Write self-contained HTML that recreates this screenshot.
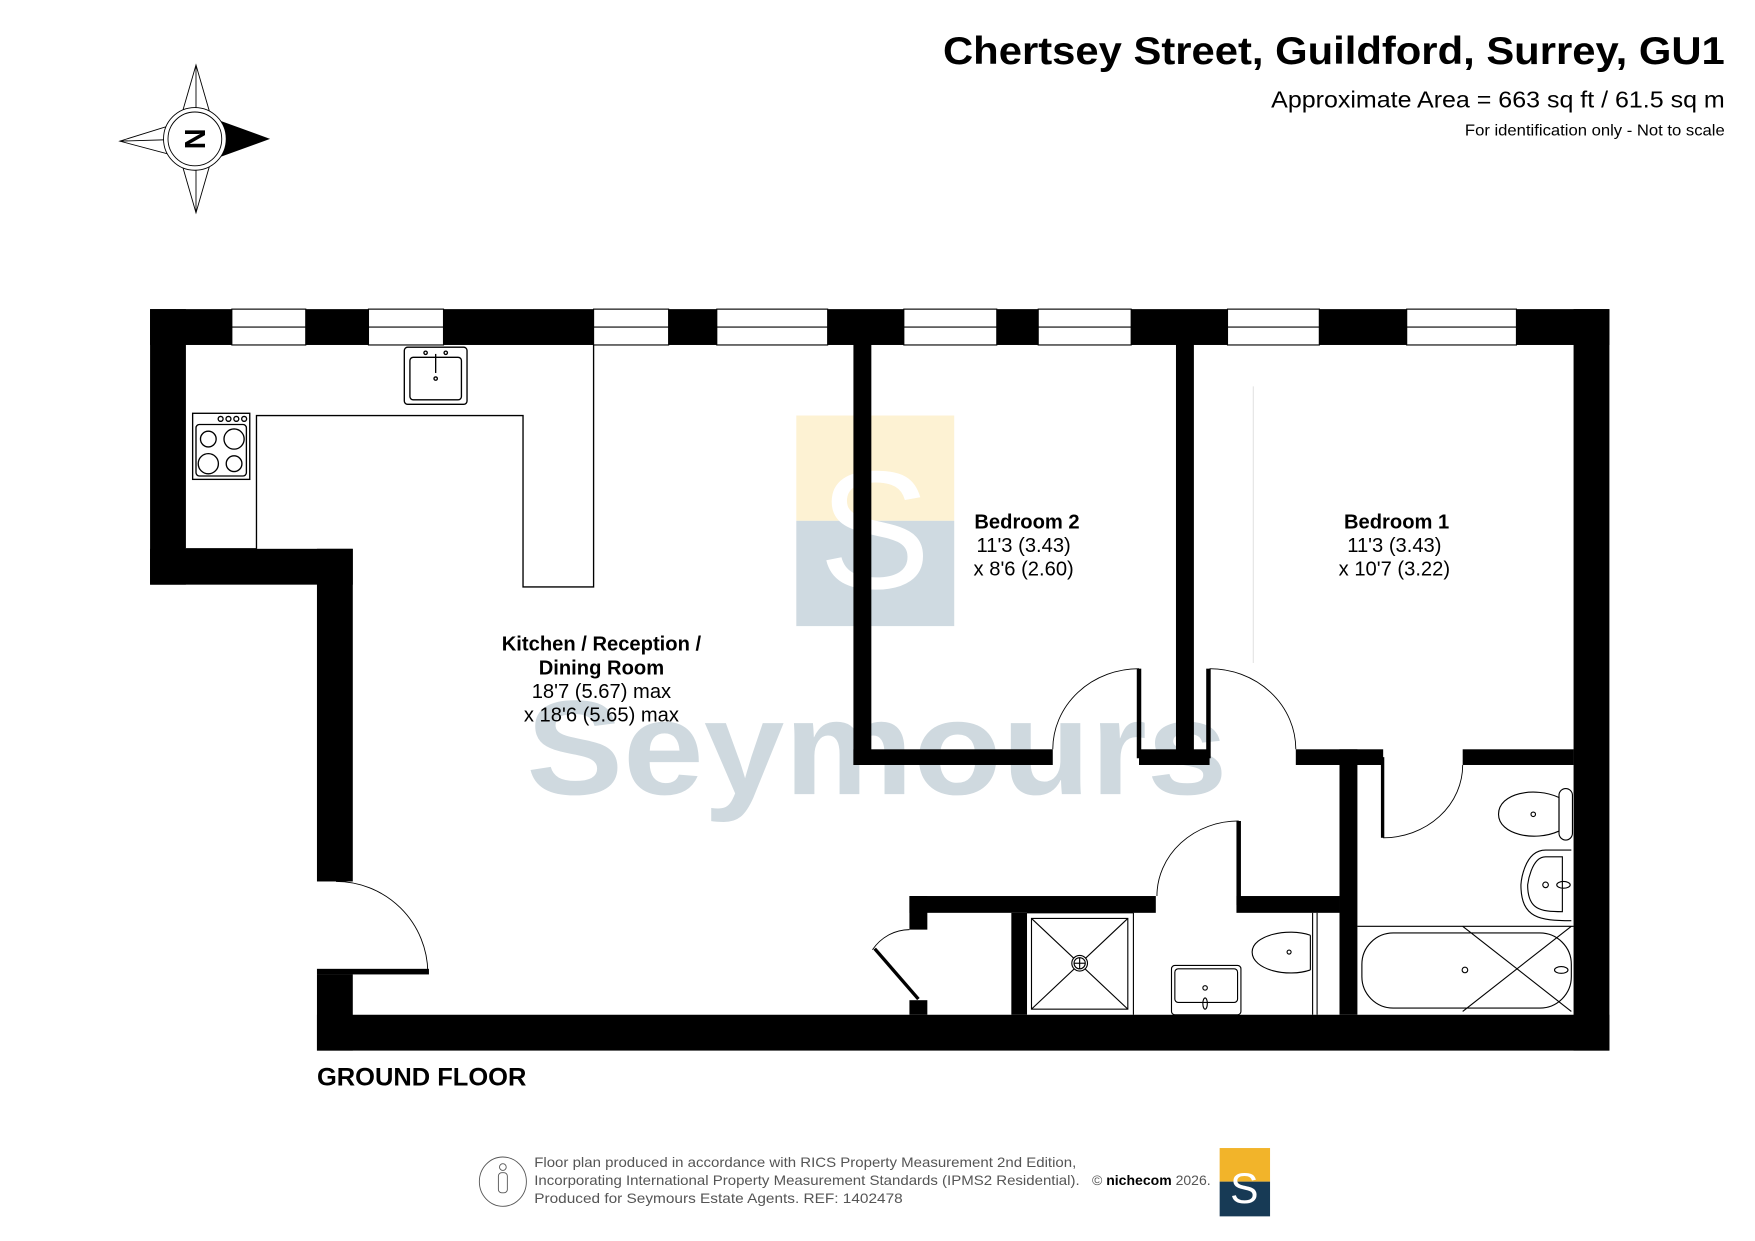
<!DOCTYPE html>
<html><head><meta charset="utf-8"><style>
html,body{margin:0;padding:0;background:#fff;width:1755px;height:1241px;overflow:hidden}
svg{display:block}
text{font-family:"Liberation Sans",Arial,sans-serif}
</style></head><body>
<svg width="1755" height="1241" viewBox="0 0 1567 1108" preserveAspectRatio="none" xmlns="http://www.w3.org/2000/svg">
<rect width="1567" height="1108" fill="#fff"/>
<!-- header -->
<text x="1540" y="57" font-size="35" font-weight="bold" text-anchor="end" textLength="698" lengthAdjust="spacingAndGlyphs">Chertsey Street, Guildford, Surrey, GU1</text>
<text x="1540" y="96" font-size="21" text-anchor="end" textLength="405" lengthAdjust="spacingAndGlyphs">Approximate Area = 663 sq ft / 61.5 sq m</text>
<text x="1540" y="121" font-size="14" text-anchor="end" textLength="232" lengthAdjust="spacingAndGlyphs">For identification only - Not to scale</text>
<!-- compass -->
<g stroke="#000" stroke-width="0.8" fill="#fff">
<polygon points="175,58 188,103 175,124 162,103"/>
<polygon points="175,190 188,145 175,124 162,145"/>
<polygon points="107,126 152,112 174,124 152,138"/>
<line x1="175" y1="58" x2="175" y2="190"/><line x1="107" y1="126" x2="175" y2="124"/>
<polygon points="240,124 196,108 174,124 196,140" fill="#000"/>
<circle cx="174" cy="124" r="28"/><circle cx="174" cy="124" r="24"/>
</g>
<text x="174" y="124" font-size="26" font-weight="bold" text-anchor="middle" transform="rotate(90 174 124) translate(0 9)">N</text>
<!-- watermark -->
<rect x="711" y="371" width="141" height="94" fill="#fdf2d3"/>
<rect x="711" y="465" width="141" height="94" fill="#cfdae1"/>
<text x="781" y="525" font-size="150" fill="#fff" text-anchor="middle" font-family="Liberation Serif,serif">S</text>
<text x="470" y="709" font-size="120" font-weight="bold" fill="#cfd9df" textLength="626" lengthAdjust="spacingAndGlyphs">Seymours</text>
<!-- kitchen counters -->
<g fill="none" stroke="#000" stroke-width="1.2">
<polyline points="229,490 229,371 467,371 467,524 530,524 530,308"/>
<line x1="166" y1="490" x2="229" y2="490"/>
<rect x="361" y="310" width="56" height="51" rx="3"/><rect x="366" y="319" width="46" height="38" rx="3"/>
<line x1="389" y1="316" x2="389" y2="333"/><circle cx="389" cy="338" r="1.5"/><circle cx="380" cy="315" r="1.5"/><circle cx="398" cy="315" r="1.5"/>
<rect x="172" y="369" width="51" height="59"/><rect x="175" y="379" width="45" height="46" rx="3"/>
<circle cx="186" cy="392" r="7"/><circle cx="209" cy="392" r="9"/><circle cx="186" cy="414" r="9"/><circle cx="209" cy="414" r="7"/>
<circle cx="197" cy="374" r="2.2"/><circle cx="204" cy="374" r="2.2"/><circle cx="211" cy="374" r="2.2"/><circle cx="218" cy="374" r="2.2"/>
</g>
<!-- walls -->
<g fill="#000">
<rect x="134" y="276" width="1303" height="32"/>
<rect x="134" y="276" width="32" height="246"/>
<rect x="134" y="490" width="181" height="32"/>
<rect x="283" y="490" width="32" height="297"/>
<rect x="283" y="870" width="32" height="68"/>
<rect x="283" y="906" width="1154" height="32"/>
<rect x="1405" y="276" width="32" height="662"/>
<rect x="762" y="300" width="16" height="383"/>
<rect x="762" y="669" width="178" height="14"/>
<rect x="1050" y="300" width="16" height="383"/>
<rect x="1017" y="669" width="63" height="14"/>
<rect x="1015" y="597" width="4" height="80"/>
<rect x="1077" y="597" width="4" height="80"/>
<rect x="1157" y="669" width="78" height="14"/>
<rect x="1306" y="669" width="99" height="14"/>
<rect x="1196" y="669" width="16" height="237"/>
<rect x="1233" y="676" width="3" height="72"/>
<rect x="1104" y="733" width="4" height="75"/>
<rect x="1104" y="800" width="92" height="15"/>
<rect x="812" y="800" width="220" height="15"/>
<rect x="812" y="800" width="16" height="30"/>
<rect x="812" y="893" width="16" height="13"/>
<rect x="903" y="815" width="14" height="91"/>
<rect x="283" y="865" width="100" height="5"/>
</g>
<!-- windows -->
<g fill="#fff" stroke="#000" stroke-width="1">
<rect x="207" y="276" width="66" height="32"/><rect x="329" y="276" width="67" height="32"/>
<rect x="530" y="276" width="67" height="32"/><rect x="640" y="276" width="99" height="32"/>
<rect x="807" y="276" width="83" height="32"/><rect x="927" y="276" width="83" height="32"/>
<rect x="1096" y="276" width="82" height="32"/><rect x="1256" y="276" width="98" height="32"/>
</g>
<g stroke="#000" stroke-width="1">
<line x1="207" y1="292" x2="273" y2="292"/><line x1="329" y1="292" x2="396" y2="292"/>
<line x1="530" y1="292" x2="597" y2="292"/><line x1="640" y1="292" x2="739" y2="292"/>
<line x1="807" y1="292" x2="890" y2="292"/><line x1="927" y1="292" x2="1010" y2="292"/>
<line x1="1096" y1="292" x2="1178" y2="292"/><line x1="1256" y1="292" x2="1354" y2="292"/>
</g>
<!-- door arcs -->
<g fill="none" stroke="#000" stroke-width="0.8">
<path d="M300,787 A82,82 0 0 1 382,868"/>
<path d="M1017,597 A77,72 0 0 0 940,669"/>
<path d="M1080,597 A77,72 0 0 1 1157,669"/>
<path d="M1306,683 A71,65 0 0 1 1235,748"/>
<path d="M1106,733 A73,67 0 0 0 1033,800"/>
<path d="M812,830 A40,40 0 0 0 779,848"/>
<line x1="1119" y1="345" x2="1119" y2="592" stroke="#ddd"/>
</g>
<line x1="781" y1="847" x2="820" y2="892" stroke="#000" stroke-width="3"/>
<!-- shower room fixtures -->
<g fill="none" stroke="#000" stroke-width="1">
<line x1="917" y1="815" x2="1012" y2="815"/><line x1="1012" y1="815" x2="1012" y2="906"/>
<rect x="921" y="820" width="86" height="81"/><line x1="921" y1="820" x2="1007" y2="901"/><line x1="1007" y1="820" x2="921" y2="901"/>
<circle cx="964" cy="860" r="7" fill="#fff"/><circle cx="964" cy="860" r="5"/><line x1="959" y1="860" x2="969" y2="860"/><line x1="964" y1="855" x2="964" y2="865"/>
<rect x="1046" y="862" width="62" height="44" rx="3"/><rect x="1049" y="865" width="56" height="30" rx="3"/>
<circle cx="1076" cy="882" r="2"/><ellipse cx="1076" cy="896" rx="2" ry="5"/>
<line x1="1172" y1="815" x2="1172" y2="906"/><line x1="1176" y1="815" x2="1176" y2="906"/>
<path d="M1170,835 C1150,828 1118,835 1118,850 C1118,866 1150,873 1170,866"/><line x1="1170" y1="835" x2="1170" y2="866"/>
<circle cx="1151" cy="850" r="1.8"/>
<!-- bathroom -->
<line x1="1212" y1="827" x2="1405" y2="827"/>
<rect x="1216" y="833" width="187" height="67" rx="28"/>
<line x1="1306" y1="827" x2="1403" y2="903"/><line x1="1403" y1="827" x2="1306" y2="903"/>
<circle cx="1308" cy="866" r="2.5"/><ellipse cx="1394" cy="866" rx="6" ry="3"/>
<path d="M1403,759 L1380,759 C1360,759 1358,790 1358,790 C1358,820 1375,822 1403,822"/>
<path d="M1395,765 L1380,765 C1367,765 1364,790 1364,790 C1364,812 1375,814 1395,814 Z"/>
<circle cx="1380" cy="790" r="2.5"/><ellipse cx="1396" cy="790" rx="6" ry="3"/>
<path d="M1392,712 C1370,702 1338,708 1338,727 C1338,745 1370,752 1392,742 Z"/>
<rect x="1392" y="704" width="12" height="46" rx="6"/>
<circle cx="1369" cy="727" r="2"/>
</g>
<!-- labels -->
<g font-size="18" text-anchor="middle">
<text x="917" y="472" font-weight="bold">Bedroom 2</text>
<text x="914" y="493">11'3 (3.43)</text>
<text x="914" y="514">x 8'6 (2.60)</text>
<text x="1247" y="472" font-weight="bold">Bedroom 1</text>
<text x="1245" y="493">11'3 (3.43)</text>
<text x="1245" y="514">x 10'7 (3.22)</text>
<text x="537" y="581" font-weight="bold">Kitchen / Reception /</text>
<text x="537" y="602" font-weight="bold">Dining Room</text>
<text x="537" y="623">18'7 (5.67) max</text>
<text x="537" y="644">x 18'6 (5.65) max</text>
</g>
<text x="283" y="969" font-size="22" font-weight="bold" textLength="187" lengthAdjust="spacingAndGlyphs">GROUND FLOOR</text>
<!-- footer -->
<g fill="none" stroke="#555" stroke-width="0.8">
<ellipse cx="449" cy="1055" rx="21" ry="22"/><circle cx="449" cy="1042" r="3"/><rect x="445" y="1047" width="8" height="18" rx="3"/>
</g>
<g font-size="12.5" fill="#555">
<text x="477" y="1042" textLength="484" lengthAdjust="spacingAndGlyphs">Floor plan produced in accordance with RICS Property Measurement 2nd Edition,</text>
<text x="477" y="1058" textLength="487" lengthAdjust="spacingAndGlyphs">Incorporating International Property Measurement Standards (IPMS2 Residential).</text>
<text x="477" y="1074" textLength="329" lengthAdjust="spacingAndGlyphs">Produced for Seymours Estate Agents.   REF: 1402478</text>
<text x="975" y="1058" textLength="106" lengthAdjust="spacingAndGlyphs">© <tspan fill="#000" font-weight="bold">nichecom</tspan> 2026.</text>
</g>
<rect x="1089" y="1025" width="45" height="30" fill="#f2b42a"/>
<rect x="1089" y="1055" width="45" height="31" fill="#173a55"/>
<text x="1111" y="1074" font-size="38" fill="#fff" text-anchor="middle" font-family="Liberation Serif,serif">S</text>
</svg>
</body></html>
